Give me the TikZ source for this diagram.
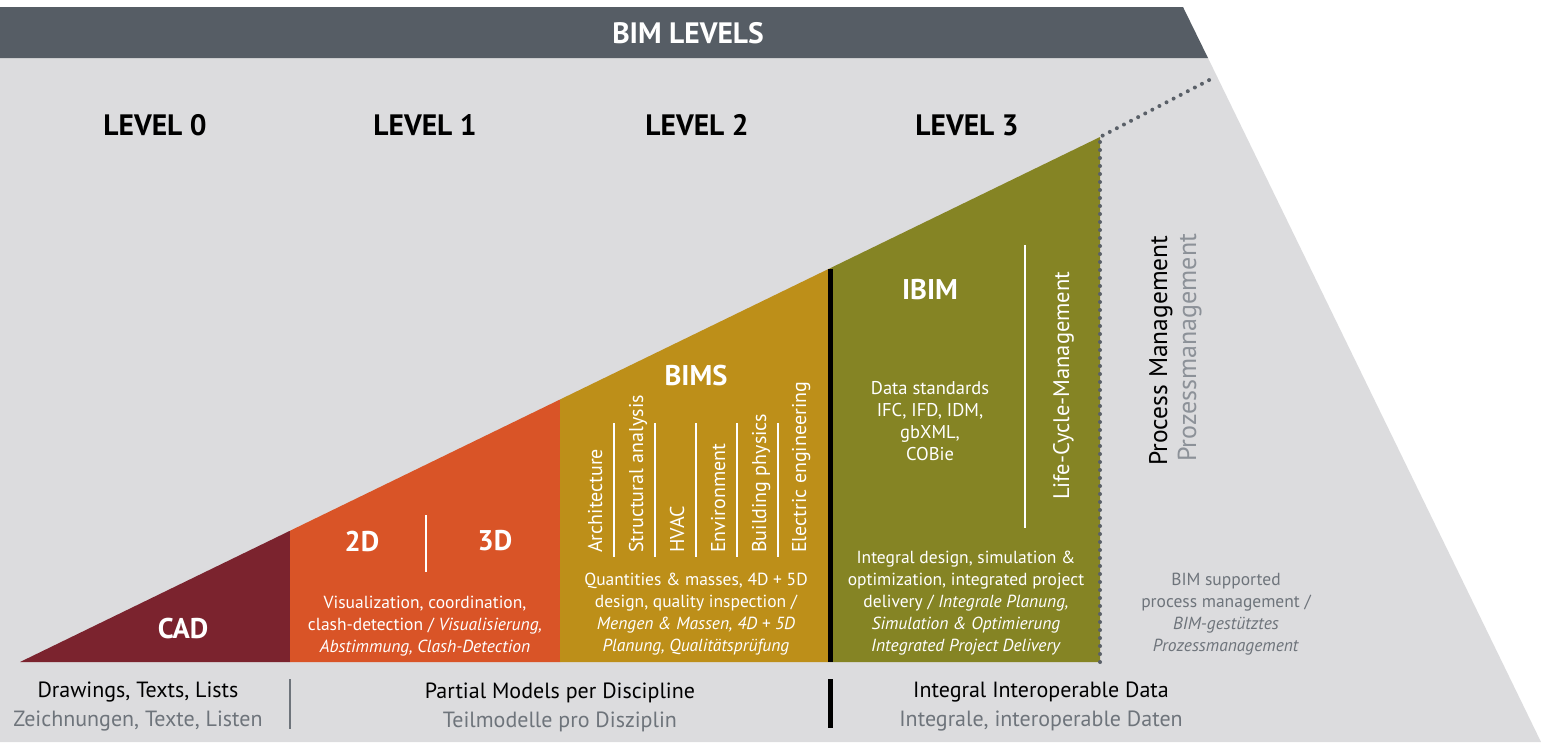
\documentclass[tikz,border=0pt]{standalone}
\usepackage{fontspec}
\setmainfont{PT Sans}
\usetikzlibrary{positioning}
\definecolor{bannergray}{HTML}{565D65}
\definecolor{bggray}{HTML}{DCDCDE}
\definecolor{cadred}{HTML}{7B232E}
\definecolor{bimorange}{HTML}{D95427}
\definecolor{bimsgold}{HTML}{BD8F19}
\definecolor{ibimolive}{HTML}{858424}
\definecolor{dotgray}{HTML}{5A6068}
\definecolor{txtgray}{HTML}{6E747B}
\definecolor{ltgray}{HTML}{8C9198}
\tikzset{
  head/.style={font=\fontsize{29.5}{32}\selectfont\bfseries},
  lbl/.style={text=white,font=\fontsize{28.5}{30}\selectfont\bfseries},
  body/.style={text=white,align=center,font=\fontsize{17.5}{22}\selectfont},
  disc/.style={text=white,rotate=90,anchor=base west,inner sep=0pt,font=\fontsize{20}{22}\selectfont},
  sep/.style={draw=white,line width=2.2pt},
  foot/.style={align=center,font=\fontsize{22}{29}\selectfont},
  dots/.style={draw=dotgray,line width=4pt,line cap=round,dash pattern=on 0pt off 8pt}
}
\begin{document}
\begin{tikzpicture}[x=1pt,y=-1pt]
                \useasboundingbox[fill=white] (0,0) rectangle (1541,742);
                \fill[bggray] (0,58) -- (1208,58) -- (1541,742) -- (0,742) -- cycle;
                \fill[bannergray] (0,7) -- (1183,7) -- (1208,58) -- (0,58) -- cycle;
                \coordinate (tip) at (20,662);
                \coordinate (top) at (1100,137);
                \coordinate (far) at (1215,77);
                \fill[cadred] (tip) -- (290,530.75) -- (290,662) -- cycle;
                \fill[bimorange] (290,530.75) -- (560,399.5) -- (560,662) -- (290,662) -- cycle;
                \fill[bimsgold] (560,399.5) -- (830,268.25) -- (830,662) -- (560,662) -- cycle;
                \fill[ibimolive] (830,268.25) -- (top) -- (1100,662) -- (830,662) -- cycle;
                \draw[line width=5pt] (830.5,268.5) -- (830.5,662);
                \draw[dots] (1100,662) -- (top) -- (far);
                \node[head,text=white] (title) at (688,33) {BIM LEVELS};
                \node[head] (lvl0) at (155,125) {LEVEL 0};
                \node[head] (lvl1) at (425,125) {LEVEL 1};
                \node[head] (lvl2) at (697,125) {LEVEL 2};
                \node[head] (lvl3) at (967,125) {LEVEL 3};
                \node[lbl] (cad) at (183,629) {CAD};
                \node[lbl] (twod) at (362,541) {2D};
                \node[lbl] (threed) at (495,541) {3D};
                \draw[sep] (426,515) -- (426,572);
                \node[body] (vis) at (425,626) {Visualization, coordination,\\clash-detection / \textit{Visualisierung,}\\\textit{Abstimmung, Clash-Detection}};
                \node[lbl] (bims) at (696,376) {BIMS};
                \node[disc] (arch) at (602,553) {Architecture};
                \node[disc] (struct) at (643,553) {Structural analysis};
                \node[disc] (hvac) at (684,553) {HVAC};
                \node[disc] (env) at (725,553) {Environment};
                \node[disc] (phys) at (766,553) {Building physics};
                \node[disc] (elec) at (806,553) {Electric engineering};
                \foreach \x in {614,655,696,737,778}
                  \draw[sep] (\x,423) -- (\x,557);
                \node[body] (qty) at (696,614) {Quantities \& masses, 4D + 5D\\design, quality inspection /\\\textit{Mengen \& Massen, 4D + 5D}\\\textit{Planung, Qualitätsprüfung}};
                \node[lbl] (ibim) at (930,290) {IBIM};
                \node[body,font=\fontsize{18.5}{22}\selectfont] (std) at (930,421) {Data standards\\IFC, IFD, IDM,\\gbXML,\\COBie};
                \draw[sep] (1025,245) -- (1025,528);
                \node[disc,font=\fontsize{22.5}{24}\selectfont] (lcm) at (1069,500) {Life-Cycle-Management};
                \node[body] (integ) at (966,603) {Integral design, simulation \&\\optimization, integrated project\\delivery / \textit{Integrale Planung,}\\\textit{Simulation \& Optimierung}\\\textit{Integrated Project Delivery}};
                \node[disc,text=black,font=\fontsize{25.5}{27}\selectfont] (pm) at (1167,466) {Process Management};
                \node[disc,text=ltgray,font=\fontsize{26}{28}\selectfont] (pmde) at (1196,462) {Prozessmanagement};
                \node[body,text=txtgray] (bimpm) at (1226,614) {BIM supported\\process management /\\\textit{BIM-gestütztes}\\\textit{Prozessmanagement}};
                \node[foot] (draw) at (138,707) {Drawings, Texts, Lists\\\color{txtgray}Zeichnungen, Texte, Listen};
                \node[foot] (part) at (560,707) {Partial Models per Discipline\\\color{txtgray}Teilmodelle pro Disziplin};
                \node[foot] (data) at (1041,707) {Integral Interoperable Data\\\color{txtgray}Integrale, interoperable Daten};
                \draw[txtgray,line width=2pt] (290,679) -- (290,729);
                \draw[line width=5pt] (830.5,679) -- (830.5,728);
            \end{tikzpicture}
\end{document}
